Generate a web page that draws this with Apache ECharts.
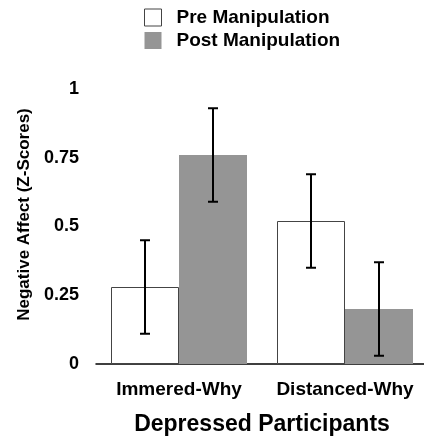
<!DOCTYPE html>
<html>
<head>
<meta charset="utf-8">
<script src="https://cdn.jsdelivr.net/npm/echarts@6/dist/echarts.min.js"></script>
<style>html,body{margin:0;padding:0;background:#fff}#c{width:424px;height:436px}</style>
</head>
<body>
<div id="c"></div>
<script>
var categories = ['Immered-Why', 'Distanced-Why'];
var seriesNames = ['Pre Manipulation', 'Post Manipulation'];
var preValues = [0.28, 0.52];
var postValues = [0.76, 0.20];
var preLow = [0.11, 0.35];
var preHigh = [0.45, 0.69];
var postLow = [0.59, 0.03];
var postHigh = [0.93, 0.37];
var yTicks = [0, 0.25, 0.5, 0.75, 1];

var FONT = 'Liberation Sans, Arial, sans-serif';
var BAR_W = 68;

function errData(low, high) {
  return categories.map(function (c, i) { return [i, low[i], high[i]]; });
}
function errSeries(low, high, dir) {
  return {
    type: 'custom',
    z: 10,
    silent: true,
    data: errData(low, high),
    renderItem: function (params, api) {
      var i = api.value(0);
      var pLo = api.coord([i, api.value(1)]);
      var pHi = api.coord([i, api.value(2)]);
      var x = pLo[0] + dir * BAR_W / 2;
      var cap = 5;
      var st = { stroke: '#000', lineWidth: 2 };
      return {
        type: 'group',
        children: [
          { type: 'line', shape: { x1: x, y1: pLo[1], x2: x, y2: pHi[1] }, style: st },
          { type: 'line', shape: { x1: x - cap, y1: pLo[1], x2: x + cap, y2: pLo[1] }, style: st },
          { type: 'line', shape: { x1: x - cap, y1: pHi[1], x2: x + cap, y2: pHi[1] }, style: st }
        ]
      };
    }
  };
}

var chart = echarts.init(document.getElementById('c'), null, { renderer: 'canvas' });
chart.setOption({
  animation: false,
  backgroundColor: '#fff',
  legend: {
    orient: 'vertical',
    left: 144,
    top: 8,
    padding: 0,
    itemWidth: 17,
    itemHeight: 17,
    itemGap: 4,
    icon: 'rect',
    selectedMode: false,
    textStyle: { fontFamily: FONT, fontWeight: 'bold', fontSize: 19, color: '#000', padding: [0, 0, 0, 10] },
    data: [
      { name: seriesNames[0], icon: 'rect', itemStyle: { color: '#fff', borderColor: '#444', borderWidth: 1 } },
      { name: seriesNames[1], icon: 'rect', itemStyle: { color: '#959595', borderWidth: 0 } }
    ]
  },
  grid: { left: 96, right: -4, top: 89, bottom: 72, containLabel: false, outerBoundsMode: 'none' },
  xAxis: {
    type: 'category',
    data: categories,
    name: 'Depressed Participants',
    nameLocation: 'middle',
    nameGap: 49,
    nameTextStyle: { fontFamily: FONT, fontWeight: 'bold', fontSize: 23, color: '#000' },
    axisLine: { lineStyle: { color: '#000', width: 1.5 } },
    axisTick: { show: false },
    axisLabel: { fontFamily: FONT, fontWeight: 'bold', fontSize: 19, color: '#000', margin: 16, interval: 0, hideOverlap: false }
  },
  yAxis: {
    type: 'value',
    min: 0,
    max: 1,
    interval: 0.25,
    name: 'Negative Affect (Z-Scores)',
    nameLocation: 'middle',
    nameGap: 62,
    nameTextStyle: { fontFamily: FONT, fontWeight: 'bold', fontSize: 17, color: '#000', padding: [0, 0, 0, 24] },
    axisLine: { show: false },
    axisTick: { show: false },
    splitLine: { show: false },
    axisLabel: {
      fontFamily: FONT, fontWeight: 'bold', fontSize: 18, color: '#000', margin: 17,
      formatter: function (v) { return yTicks.indexOf(v) >= 0 ? String(v) : ''; }
    }
  },
  series: [
    {
      name: seriesNames[0], type: 'bar', data: preValues, barWidth: BAR_W, barGap: '0%',
      itemStyle: { color: '#fff', borderColor: '#444', borderWidth: 1 }
    },
    {
      name: seriesNames[1], type: 'bar', data: postValues, barWidth: BAR_W, barGap: '0%',
      itemStyle: { color: '#959595' }
    },
    errSeries(preLow, preHigh, -1),
    errSeries(postLow, postHigh, 1)
  ]
});
</script>
</body>
</html>
